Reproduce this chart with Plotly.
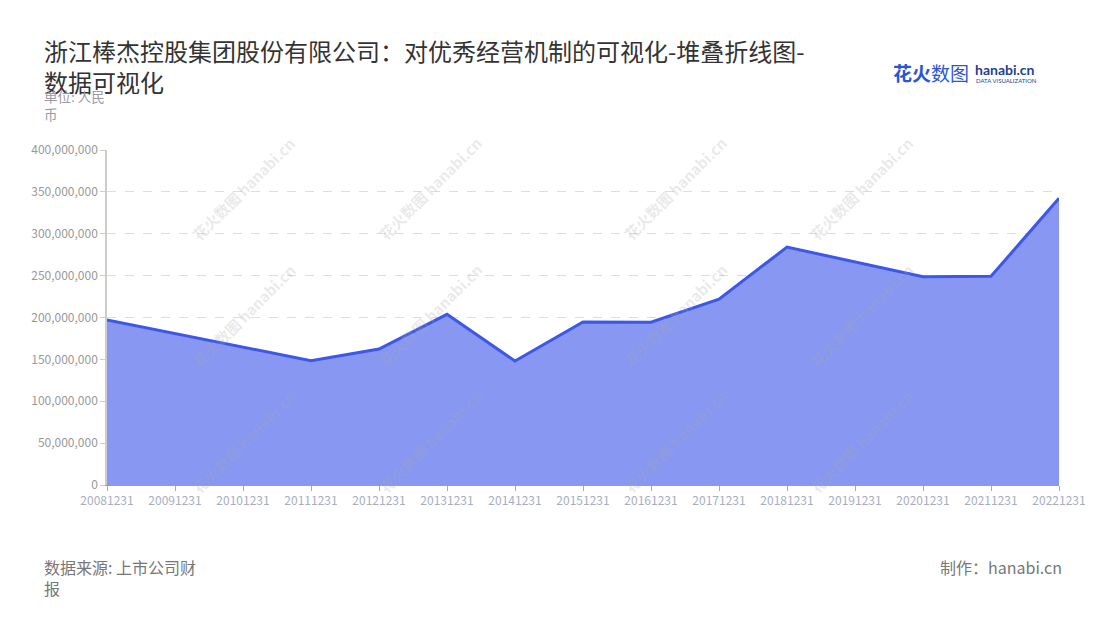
import plotly.graph_objects as go

# reporting dates and values (RMB)
dates = ["20081231", "20091231", "20101231", "20111231", "20121231", "20131231",
         "20141231", "20151231", "20161231", "20171231", "20181231", "20191231",
         "20201231", "20211231", "20221231"]
values = [197.0e6, 181.0e6, 165.0e6, 148.4e6, 162.4e6, 203.8e6, 148.0e6, 194.6e6,
          194.3e6, 222.0e6, 284.0e6, 266.0e6, 248.8e6, 249.2e6, 342.3e6]
y_ticks = [0, 50e6, 100e6, 150e6, 200e6, 250e6, 300e6, 350e6, 400e6]

FONT = "Noto Sans CJK SC"

fig = go.Figure()
fig.add_trace(go.Scatter(
    x=dates, y=values, mode="lines",
    line=dict(color="#3d58e8", width=3),
    fill="tozeroy", fillcolor="rgba(135,151,242,1)",
    hoverinfo="x+y", showlegend=False,
))

# the page adds an 8px body margin, so margins are shifted by -8
fig.update_layout(
    width=1100, height=620,
    margin=dict(l=99, r=49, t=142, b=143),
    paper_bgcolor="white", plot_bgcolor="white",
    font=dict(family=FONT),
    title=dict(
        text="浙江棒杰控股集团股份有限公司：对优秀经营机制的可视化-堆叠折线图-<br>数据可视化",
        x=36 / 1100, xanchor="left", y=1 - 53 / 620, yanchor="top",
        font=dict(size=24, color="#333333", family=FONT),
    ),
)

fig.update_xaxes(
    type="category", range=[0, len(dates) - 1],
    showgrid=False, showline=True, linecolor="#8a98ee", linewidth=1,
    ticks="outside", ticklen=5, tickcolor="#aaaaaa",
    tickfont=dict(size=12, color="#a8adc2"),
)
fig.update_yaxes(
    range=[0, 400e6], tickvals=y_ticks, tickformat=",",
    showgrid=True, gridcolor="#dddddd", griddash="dash", gridwidth=1,
    showline=True, linecolor="#cccccc", linewidth=1.5,
    ticks="outside", ticklen=5, tickcolor="#cccccc",
    tickfont=dict(size=12, color="#999999"), zeroline=False,
)

# watermarks
for wx in [185, 430, 675, 920]:
    for wy in [130, 315, 500]:
        fig.add_annotation(
            xref="paper", yref="paper",
            x=(wx - 107) / 952, y=(485 - wy) / 335,
            text="<b>花火数图 hanabi.cn</b>", showarrow=False, textangle=-45,
            font=dict(size=15, color="rgba(170,170,170,0.25)", family=FONT),
        )

annos = [
    dict(x=42, y=105, text="单位: 人民<br>币", size=13.5, color="#9a9aa6", anchor="left"),
    dict(x=42, y=577, text="数据来源: 上市公司财<br>报", size=16, color="#777777", anchor="left"),
    dict(x=1064, y=567, text="制作：hanabi.cn", size=16, color="#777777", anchor="right"),
]
for a in annos:
    fig.add_annotation(
        xref="paper", yref="paper",
        x=(a["x"] - 107) / 952, y=(485 - a["y"]) / 335,
        xanchor=a["anchor"], yanchor="middle", align=a["anchor"],
        text=a["text"], showarrow=False,
        font=dict(size=a["size"], color=a["color"], family=FONT),
    )

# logo
fig.add_annotation(
    xref="paper", yref="paper", x=(891 - 107) / 952, y=(485 - 72) / 335,
    xanchor="left", yanchor="middle", text="<b>花火</b>数图", showarrow=False,
    font=dict(size=19, color="#2a56d6", family=FONT),
)
fig.add_annotation(
    xref="paper", yref="paper", x=(973 - 107) / 952, y=(485 - 69) / 335,
    xanchor="left", yanchor="middle", text="<b>hanabi.cn</b>", showarrow=False,
    font=dict(size=14, color="#1d3f94", family="Lato"),
)
fig.add_annotation(
    xref="paper", yref="paper", x=(974 - 107) / 952, y=(485 - 80) / 335,
    xanchor="left", yanchor="middle", text="DATA VISUALIZATION", showarrow=False,
    font=dict(size=6, color="#1d3f94", family="Lato"),
)

fig.write_html("out.html")
